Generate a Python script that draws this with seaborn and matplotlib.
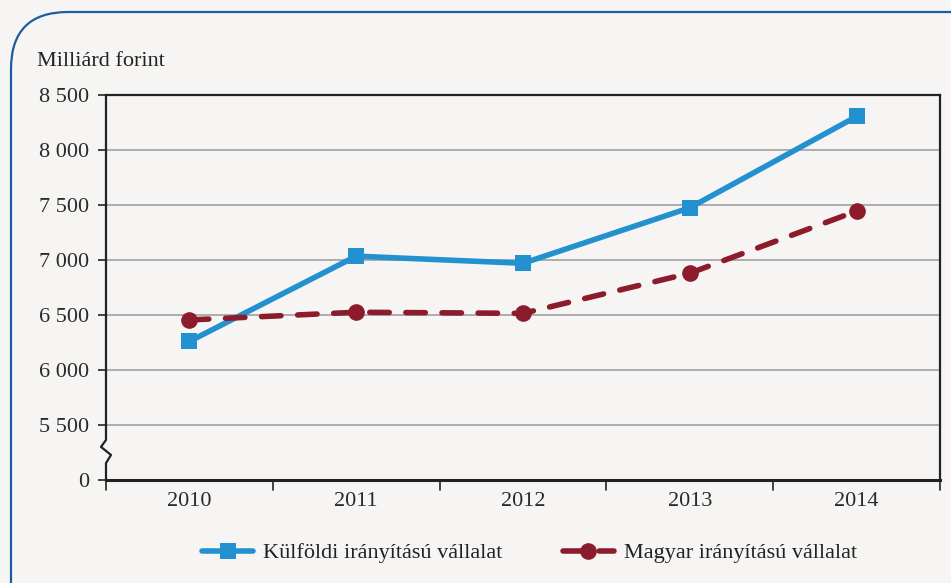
import numpy as np
import pandas as pd
import matplotlib.pyplot as plt
import seaborn as sns
from matplotlib.patches import FancyBboxPatch

years = ["2010", "2011", "2012", "2013", "2014"]
kulfoldi = [6260, 7035, 6970, 7475, 8305]
magyar = [6455, 6525, 6515, 6880, 7445]
ytick_vals = [5000, 5500, 6000, 6500, 7000, 7500, 8000, 8500]
ytick_labels = ["0", "5 500", "6 000", "6 500", "7 000", "7 500", "8 000", "8 500"]

bg = "#f6f5f3"
blue = "#2391d0"
red = "#8c1c2c"

sns.set_style("white")
plt.rcParams["font.family"] = ["Liberation Serif", "DejaVu Serif"]

fig = plt.figure(figsize=(9.51, 5.83), dpi=100, facecolor=bg)
ax = fig.add_axes([106 / 951, 1 - 480 / 583, 834 / 951, 385 / 583])
ax.set_facecolor(bg)

# rounded frame around the chart
frame = FancyBboxPatch((11 / 951, -0.2), 1.2, 1.2 - 12 / 583,
                       boxstyle="round,pad=0,rounding_size=0.06",
                       transform=fig.transFigure, fill=False,
                       edgecolor="#1b5e9f", linewidth=1.6, mutation_aspect=951 / 583)
fig.patches.append(frame)

df = pd.DataFrame({
    "x": list(range(len(years))) * 2,
    "value": kulfoldi + magyar,
    "series": ["Külföldi irányítású vállalat"] * 5 + ["Magyar irányítású vállalat"] * 5,
})

sns.lineplot(data=df[df.series == "Külföldi irányítású vállalat"], x="x", y="value",
             color=blue, linewidth=4, marker="s", markersize=11.5, markeredgewidth=0,
             ax=ax, label="Külföldi irányítású vállalat")
sns.lineplot(data=df[df.series == "Magyar irányítású vállalat"], x="x", y="value",
             color=red, linewidth=4, marker="o", markersize=12, markeredgewidth=0,
             ax=ax, label="Magyar irányítású vállalat")
ax.lines[1].set_dashes((3.5, 3))
ax.lines[1].set_dash_capstyle("round")

ax.set_xlim(-0.5, 4.5)
ax.set_ylim(5000, 8500)
ax.set_yticks(ytick_vals)
ax.set_yticklabels(ytick_labels, fontsize=16, color="#2a2a2a")
ax.set_xticks(range(len(years)))
ax.set_xticklabels(years, fontsize=16, color="#2a2a2a")
ax.tick_params(axis="x", length=0, pad=9)
ax.tick_params(axis="y", length=6, width=1.2, color="#222222", direction="out", pad=6, left=True)
ax.set_xlabel("")
ax.set_ylabel("")

for v in ytick_vals[1:-1]:
    ax.axhline(v, color="#999999", linewidth=1.1, zorder=0)

# category boundary ticks under the axis
for b in np.arange(-0.5, 5.0, 1.0):
    ax.plot([b, b], [0, -0.025], transform=ax.get_xaxis_transform(),
            color="#222222", linewidth=1.2, clip_on=False)

for s in ["top", "right", "bottom"]:
    ax.spines[s].set_color("#222222")
    ax.spines[s].set_linewidth(1.6)
ax.spines["bottom"].set_linewidth(2.2)
ax.spines["left"].set_visible(False)

# left axis with break mark
bx = [0, 0, -0.006, 0.006, 0, 0]
by = [1, 0.104, 0.086, 0.065, 0.044, 0]
ax.plot(bx, by, transform=ax.transAxes, color="#222222", linewidth=1.6, clip_on=False)

fig.text(37 / 951, 1 - 62 / 583, "Milliárd forint", fontsize=16, color="#222222", va="center")

leg = ax.legend(loc="center", bbox_to_anchor=(0.508, -0.19), ncol=2, frameon=False,
                fontsize=16, handlelength=2.3, columnspacing=2.7, handletextpad=0.45)
for t in leg.get_texts():
    t.set_color("#222222")

fig.savefig("out.png", dpi=100, facecolor=bg)
